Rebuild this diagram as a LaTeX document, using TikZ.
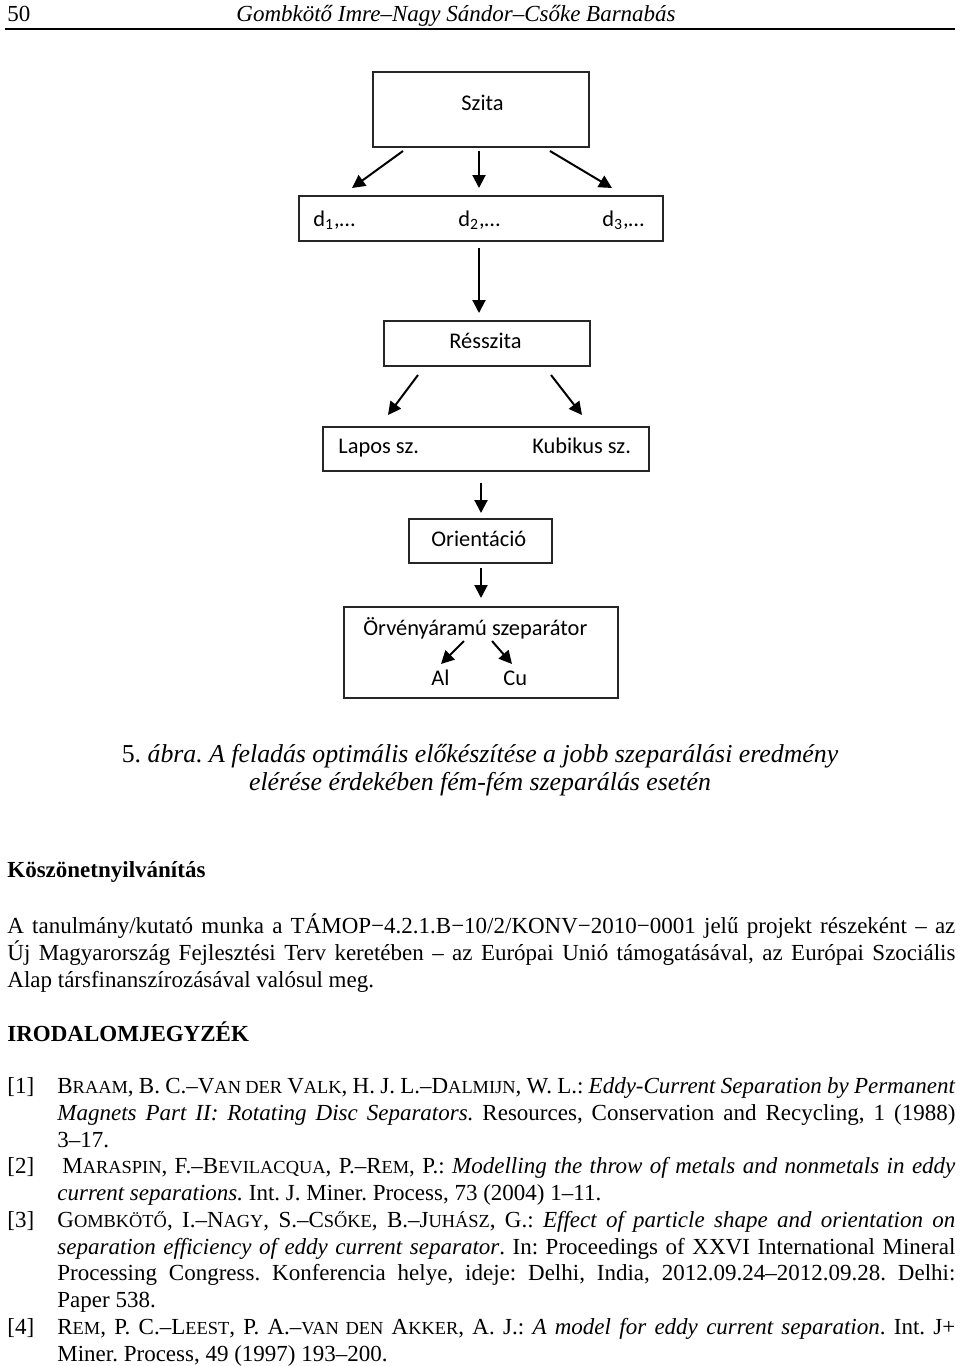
\documentclass[tikz,border=0pt]{standalone}
\usepackage{fontspec}
\setmainfont{Liberation Serif}
\newfontfamily\calfont{Carlito}
\usetikzlibrary{arrows.meta}
\newcommand\smc[1]{{\fontsize{9.2pt}{9.2pt}\selectfont #1}}
\newcommand\jline[2]{\makebox[#1][s]{#2}}
\frenchspacing
\begin{document}
\begin{tikzpicture}[x=0.5pt,y=-0.5pt,
  txt/.style={inner sep=0pt, anchor=base west, font=\fontsize{11.5pt}{13.5pt}\selectfont},
  ctxt/.style={inner sep=0pt, anchor=base, font=\fontsize{12.9pt}{15pt}\selectfont\itshape},
  dtxt/.style={inner sep=0pt, anchor=base west, font=\calfont\fontsize{11.2pt}{13pt}\selectfont},
  boxn/.style={draw=black!85, line width=0.75pt, inner sep=0pt, anchor=north west},
  arr/.style={line width=1pt, -{Triangle[length=6.5pt,width=6.5pt]}}]
\useasboundingbox (0,0) rectangle (960,1366);

% header
\node[txt] (pgno) at (7,21) {50};
\node[txt, font=\fontsize{11.5pt}{13.5pt}\selectfont\itshape] (hdr) at (236,21) {Gombkötő Imre–Nagy Sándor–Csőke Barnabás};
\coordinate (rl) at (5,29);
\coordinate (rr) at (955,29);
\draw[line width=1pt] (rl) -- (rr);

% diagram boxes
\node[boxn, minimum width=108pt, minimum height=37.5pt] (szita) at (372,71) {};
\node[boxn, minimum width=182pt, minimum height=22.5pt] (dbox) at (298,195) {};
\node[boxn, minimum width=103pt, minimum height=22.5pt] (resz) at (383,320) {};
\node[boxn, minimum width=163pt, minimum height=22pt] (lapos) at (322,426) {};
\node[boxn, minimum width=71.5pt, minimum height=22pt] (orient) at (408,518) {};
\node[boxn, minimum width=137pt, minimum height=45.5pt] (sep) at (343,606) {};

% diagram texts
\node[dtxt] (tszita) at (461,110) {Szita};
\node[dtxt] (td1) at (313,226) {d\textsubscript{1},…};
\node[dtxt] (td2) at (458,226) {d\textsubscript{2},…};
\node[dtxt] (td3) at (602,226) {d\textsubscript{3},…};
\node[dtxt] (tresz) at (449,348) {Résszita};
\node[dtxt] (tlap) at (338,453) {Lapos sz.};
\node[dtxt] (tkub) at (532,453) {Kubikus sz.};
\node[dtxt] (tori) at (431,546) {Orientáció};
\node[dtxt] (tsep) at (363,635) {Örvényáramú szeparátor};
\node[dtxt] (tal) at (431,685) {Al};
\node[dtxt] (tcu) at (503,685) {Cu};

% arrow end points
\coordinate (a1s) at (403,151); \coordinate (a1e) at (352,188);
\coordinate (a2s) at (479,151); \coordinate (a2e) at (479,188);
\coordinate (a3s) at (550,151); \coordinate (a3e) at (612,188);
\coordinate (a4s) at (479,248); \coordinate (a4e) at (479,313);
\coordinate (a5s) at (418,375); \coordinate (a5e) at (388,415);
\coordinate (a6s) at (551,375); \coordinate (a6e) at (582,415);
\coordinate (a7s) at (481,483); \coordinate (a7e) at (481,513);
\coordinate (a8s) at (481,568); \coordinate (a8e) at (481,598);
\coordinate (a9s) at (464,641); \coordinate (a9e) at (441,664);
\coordinate (a10s) at (492,641); \coordinate (a10e) at (512,664);
\foreach \i in {1,...,10} \draw[arr] (a\i s) -- (a\i e);

% caption
\node[ctxt] (cap1) at (480,762) {{\upshape 5.} ábra. A feladás optimális előkészítése a jobb szeparálási eredmény};
\node[ctxt] (cap2) at (480,790) {elérése érdekében fém-fém szeparálás esetén};

% acknowledgement
\node[txt, font=\fontsize{11.5pt}{13.5pt}\selectfont\bfseries] (kosz) at (7,877) {Köszönetnyilvánítás};
\node[txt] (b1) at (7,933) {\jline{474pt}{A tanulmány/kutató munka a TÁMOP−4.2.1.B−10/2/KONV−2010−0001 jelű projekt részeként – az}};
\node[txt] (b2) at (7,960) {\jline{474pt}{Új Magyarország Fejlesztési Terv keretében – az Európai Unió támogatásával, az Európai Szociális}};
\node[txt] (b3) at (7,987) {Alap társfinanszírozásával valósul meg.};

% references
\node[txt, font=\fontsize{11.5pt}{13.5pt}\selectfont\bfseries] (irod) at (7,1041) {IRODALOMJEGYZÉK};

\node[txt] (n1) at (7,1093) {[1]};
\node[txt] (r1a) at (57,1093) {\jline{449pt}{B\smc{RAAM}, B. C.–V\smc{AN DER} V\smc{ALK}, H. J. L.–D\smc{ALMIJN}, W. L.: \textit{Eddy-Current Separation by Permanent}}};
\node[txt] (r1b) at (57,1120) {\jline{449pt}{\textit{Magnets Part II: Rotating Disc Separators.} Resources, Conservation and Recycling, 1 (1988)}};
\node[txt] (r1c) at (57,1147) {3–17.};

\node[txt] (n2) at (7,1173) {[2]};
\node[txt] (r2a) at (62,1173) {\jline{446.5pt}{M\smc{ARASPIN}, F.–B\smc{EVILACQUA}, P.–R\smc{EM}, P.: \textit{Modelling the throw of metals and nonmetals in eddy}}};
\node[txt] (r2b) at (57,1200) {\textit{current separations.} Int. J. Miner. Process, 73 (2004) 1–11.};

\node[txt] (n3) at (7,1227) {[3]};
\node[txt] (r3a) at (57,1227) {\jline{449pt}{G\smc{OMBKÖTŐ}, I.–N\smc{AGY}, S.–C\smc{SŐKE}, B.–J\smc{UHÁSZ}, G.: \textit{Effect of particle shape and orientation on}}};
\node[txt] (r3b) at (57,1254) {\jline{449pt}{\textit{separation efficiency of eddy current separator}. In: Proceedings of XXVI International Mineral}};
\node[txt] (r3c) at (57,1280) {\jline{449pt}{Processing Congress. Konferencia helye, ideje: Delhi, India, 2012.09.24–2012.09.28. Delhi:}};
\node[txt] (r3d) at (57,1307) {Paper 538.};

\node[txt] (n4) at (7,1334) {[4]};
\node[txt] (r4a) at (57,1334) {\jline{449pt}{R\smc{EM}, P. C.–L\smc{EEST}, P. A.–\smc{VAN DEN} A\smc{KKER}, A. J.: \textit{A model for eddy current separation}. Int. J+}};
\node[txt] (r4b) at (57,1361) {Miner. Process, 49 (1997) 193–200.};
\end{tikzpicture}
\end{document}
